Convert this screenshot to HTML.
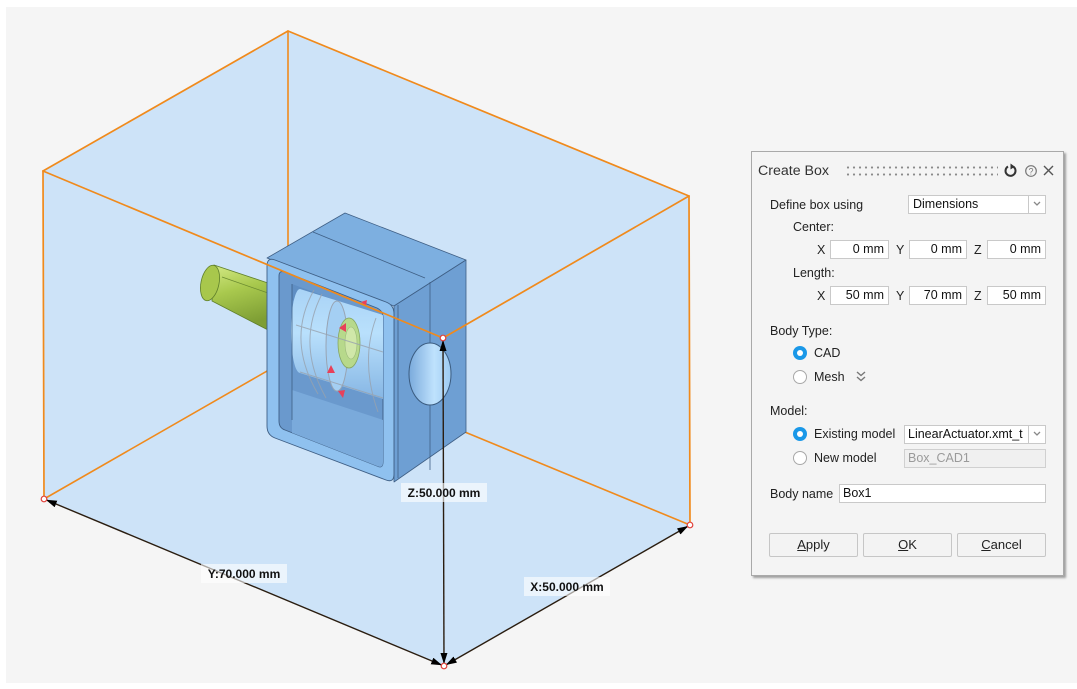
<!DOCTYPE html>
<html><head><meta charset="utf-8">
<style>
html,body{margin:0;padding:0;background:#fff;}
body{width:1077px;height:689px;position:relative;overflow:hidden;font-family:"Liberation Sans",Arial,sans-serif;}
.a{position:absolute;white-space:nowrap;}
.t{position:absolute;white-space:nowrap;font-size:12.5px;color:#222;line-height:16px;}
.f{position:absolute;background:#fff;border:1px solid #c9c9c9;box-sizing:border-box;font-size:12.5px;line-height:17px;color:#111;}
.f.r{text-align:right;padding-right:4px;}
.dd{position:absolute;background:#fff;border:1px solid #c9c9c9;box-sizing:border-box;}
.rad{position:absolute;width:14px;height:14px;border-radius:50%;box-sizing:border-box;}
.on{background:#1a98e8;}
.on:after{content:"";position:absolute;left:4px;top:4px;width:6px;height:6px;border-radius:50%;background:#fff;}
.off{background:#fff;border:1px solid #a8a8a8;}
.btn{position:absolute;top:533px;height:24px;background:#f3f3f3;border:1px solid #c6c6c6;border-radius:2px;box-sizing:border-box;text-align:center;font-size:13px;line-height:22px;color:#222;}
</style></head>
<body>
<svg class="a" style="left:0;top:0" width="1077" height="689" viewBox="0 0 1077 689">
<defs>
<linearGradient id="shaft" x1="0" y1="0" x2="0.25" y2="1">
<stop offset="0" stop-color="#d4ea86"/><stop offset="0.45" stop-color="#a9c94e"/><stop offset="1" stop-color="#7e9e34"/>
</linearGradient>
<linearGradient id="cyl" x1="0" y1="0" x2="0" y2="1">
<stop offset="0" stop-color="#a9d3f6"/><stop offset="0.4" stop-color="#b9e0fc"/><stop offset="1" stop-color="#86b6e4"/>
</linearGradient>
<linearGradient id="hole" x1="0" y1="0" x2="1" y2="0">
<stop offset="0" stop-color="#7aaadc"/><stop offset="0.6" stop-color="#bfe2fd"/><stop offset="1" stop-color="#9ccaf2"/>
</linearGradient>
<clipPath id="open"><path d="M279,276 Q279,270 285,272 L377,308 Q383,311 383,317 L383,462 Q383,469 377,466 L285,430 Q279,428 279,421 Z"/></clipPath>
<marker id="ar" viewBox="0 0 11 7" refX="13" refY="3.5" markerWidth="11" markerHeight="7" orient="auto-start-reverse" markerUnits="userSpaceOnUse"><path d="M0,0 L11,3.5 L0,7 Z" fill="#000"/></marker>
</defs>
<rect x="6" y="7" width="1071" height="676" fill="#f5f5f5"/>
<polygon points="288,31 689,196 690,525 444,666 44,499 43,171" fill="#cde3f8"/>
<g stroke="#f08a1c" stroke-width="1.6" fill="none">
<line x1="288" y1="31" x2="288" y2="359"/>
<line x1="44" y1="499" x2="288" y2="359"/>
<line x1="690" y1="525" x2="288" y2="359"/>
</g>
<path d="M214,265 L268,283 L268,330 L212,301 Z" fill="url(#shaft)" stroke="#5f7f2a" stroke-width="0.8"/>
<ellipse cx="210" cy="283" rx="9" ry="18" transform="rotate(12 210 283)" fill="#a8c74c" stroke="#5f7f2a" stroke-width="0.8"/>
<line x1="222" y1="277" x2="268" y2="293" stroke="#6a8a30" stroke-width="0.7"/>
<polygon points="267,258 345,213 466,260 394,306" fill="#7dafe0" stroke="#3f5f85" stroke-width="0.8" stroke-linejoin="round"/>
<polygon points="394,306 466,260 466,432 394,482" fill="#6e9fd3" stroke="#3f5f85" stroke-width="0.8" stroke-linejoin="round"/>
<path d="M267,266 Q267,257 275,260 L386,302 Q394,305 394,314 L394,474 Q394,483 386,480 L275,438 Q267,435 267,426 Z" fill="#8fc1ef" stroke="#3f5f85" stroke-width="0.9"/>
<path d="M279,276 Q279,270 285,272 L377,308 Q383,311 383,317 L383,462 Q383,469 377,466 L285,430 Q279,428 279,421 Z" fill="#6a99cd" stroke="#3f5f85" stroke-width="0.9"/>
<g clip-path="url(#open)">
<polygon points="292,284 383,318 383,335 292,300" fill="#5f8ec3"/>
<polygon points="292,390 383,420 383,470 292,440" fill="#7aaadb"/>
<path d="M300,289 L383,315 L383,399 L300,373 A9,42 0 0 1 300,289 Z" fill="url(#cyl)"/>
<ellipse cx="337" cy="346" rx="11" ry="45" fill="#a4cff3" stroke="#98a4b3" stroke-width="1"/>
<ellipse cx="349" cy="343" rx="11" ry="25" fill="#b7d98b" stroke="#86a663" stroke-width="0.8"/>
<ellipse cx="351" cy="343" rx="6" ry="16" fill="#d0e7a9" stroke="#9ab87a" stroke-width="0.6"/>
<g stroke="#98a2ae" stroke-width="1" fill="none" opacity="0.8">
<path d="M314,290 Q286,340 318,394"/>
<path d="M322,294 Q296,344 326,398"/>
<path d="M376,318 Q360,362 378,412"/>
<path d="M300,372 L383,398"/>
<path d="M296,325 L383,352"/>
</g>
</g>
<g stroke="#3f5f85" stroke-width="0.8" fill="none">
<line x1="313" y1="232" x2="425" y2="278"/>
<line x1="430" y1="282" x2="430" y2="470"/>
<line x1="398" y1="305" x2="398" y2="478"/>
<line x1="292" y1="284" x2="292" y2="420"/>
</g>
<ellipse cx="430" cy="374" rx="21" ry="31" fill="url(#hole)" stroke="#3b5c80" stroke-width="1"/>
<g fill="#e8405a">
<polygon points="339,328 346,323 346,332"/>
<polygon points="331,365 327,373 335,373"/>
<polygon points="338,391 345,390 343,398"/>
<polygon points="361,302 367,300 366,306"/>
</g>
<g stroke="#f08a1c" stroke-width="1.7" fill="none" stroke-linecap="round">
<line x1="288" y1="31" x2="43" y2="171"/>
<line x1="288" y1="31" x2="689" y2="196"/>
<line x1="43" y1="171" x2="44" y2="499"/>
<line x1="689" y1="196" x2="690" y2="525"/>
<line x1="43" y1="171" x2="443" y2="338"/>
<line x1="689" y1="196" x2="443" y2="338"/>
</g>
<g stroke="#2a1d10" stroke-width="1.4" fill="none">
<line x1="44" y1="499" x2="444" y2="666" marker-start="url(#ar)" marker-end="url(#ar)"/>
<line x1="444" y1="666" x2="690" y2="525" marker-start="url(#ar)" marker-end="url(#ar)"/>
<line x1="443" y1="338" x2="444" y2="666" marker-start="url(#ar)" marker-end="url(#ar)"/>
</g>
<g fill="#fff" stroke="#e0403a" stroke-width="1.2">
<circle cx="44" cy="499" r="2.8"/><circle cx="444" cy="666" r="2.8"/><circle cx="690" cy="525" r="2.8"/><circle cx="443" cy="338" r="2.8"/>
</g>
<g font-family="Liberation Sans, Arial, sans-serif" font-size="12" font-weight="bold" fill="#111">
<rect x="201" y="564" width="86" height="19" fill="#fff" fill-opacity="0.6"/>
<text x="244" y="578" text-anchor="middle">Y:70.000 mm</text>
<rect x="524" y="577" width="86" height="19" fill="#fff" fill-opacity="0.6"/>
<text x="567" y="591" text-anchor="middle">X:50.000 mm</text>
<rect x="401" y="483" width="86" height="19" fill="#fff" fill-opacity="0.6"/>
<text x="444" y="497" text-anchor="middle">Z:50.000 mm</text>
</g>
</svg>

<div class="a" style="left:751px;top:151px;width:313px;height:425px;background:#f4f4f4;border:1px solid #a9a9a9;box-sizing:border-box;box-shadow:2px 2px 2px rgba(0,0,0,0.35);"></div>
<div class="a" style="left:758px;top:162px;font-size:14.2px;line-height:18px;color:#333;">Create Box</div>
<div class="a" style="left:845px;top:164px;width:153px;height:14px;background-image:radial-gradient(circle,#8a8a8a 0.9px,transparent 1.3px);background-size:6px 7px;"></div>
<svg class="a" style="left:1003px;top:162px" width="54" height="18" viewBox="0 0 54 18">
<path d="M5,4.5 A5,5 0 1 0 10.5,4.8" fill="none" stroke="#333" stroke-width="2"/>
<path d="M7.5,1.5 L11.8,4.6 L7.5,7.5 Z" fill="#333"/>
<circle cx="28" cy="9" r="5.3" fill="none" stroke="#777" stroke-width="1.2"/>
<text x="28" y="12.3" font-size="9" font-family="Liberation Sans, sans-serif" text-anchor="middle" fill="#777">?</text>
<path d="M41,4 L50,13 M50,4 L41,13" stroke="#555" stroke-width="1.4"/>
</svg>

<div class="t" style="left:770px;top:197px;">Define box using</div>
<div class="f" style="left:908px;top:195px;width:121px;height:19px;padding-left:4px;">Dimensions</div>
<div class="dd" style="left:1028px;top:195px;width:18px;height:19px;"></div>
<svg class="a" style="left:1032px;top:200px" width="10" height="8"><path d="M2,2 L5,5 L8,2" fill="none" stroke="#888" stroke-width="1.3"/></svg>

<div class="t" style="left:793px;top:219px;">Center:</div>
<div class="t" style="left:817px;top:242px;">X</div>
<div class="f r" style="left:830px;top:240px;width:59px;height:19px;">0 mm</div>
<div class="t" style="left:896px;top:242px;">Y</div>
<div class="f r" style="left:909px;top:240px;width:58px;height:19px;">0 mm</div>
<div class="t" style="left:974px;top:242px;">Z</div>
<div class="f r" style="left:987px;top:240px;width:59px;height:19px;">0 mm</div>

<div class="t" style="left:793px;top:265px;">Length:</div>
<div class="t" style="left:817px;top:288px;">X</div>
<div class="f r" style="left:830px;top:286px;width:59px;height:19px;">50 mm</div>
<div class="t" style="left:896px;top:288px;">Y</div>
<div class="f r" style="left:909px;top:286px;width:58px;height:19px;">70 mm</div>
<div class="t" style="left:974px;top:288px;">Z</div>
<div class="f r" style="left:987px;top:286px;width:59px;height:19px;">50 mm</div>

<div class="t" style="left:770px;top:323px;">Body Type:</div>
<div class="rad on" style="left:793px;top:346px;"></div>
<div class="t" style="left:814px;top:345px;">CAD</div>
<div class="rad off" style="left:793px;top:370px;"></div>
<div class="t" style="left:814px;top:369px;">Mesh</div>
<svg class="a" style="left:855px;top:370px" width="12" height="14"><path d="M2,2 L6,5.5 L10,2 M2,7 L6,10.5 L10,7" fill="none" stroke="#777" stroke-width="1.4"/></svg>

<div class="t" style="left:770px;top:403px;">Model:</div>
<div class="rad on" style="left:793px;top:427px;"></div>
<div class="t" style="left:814px;top:426px;">Existing model</div>
<div class="f" style="left:904px;top:425px;width:125px;height:19px;padding-left:3px;overflow:hidden;">LinearActuator.xmt_t</div>
<div class="dd" style="left:1028px;top:425px;width:18px;height:19px;"></div>
<svg class="a" style="left:1032px;top:430px" width="10" height="8"><path d="M2,2 L5,5 L8,2" fill="none" stroke="#888" stroke-width="1.3"/></svg>
<div class="rad off" style="left:793px;top:451px;"></div>
<div class="t" style="left:814px;top:450px;">New model</div>
<div class="f" style="left:904px;top:449px;width:142px;height:19px;padding-left:3px;background:#f0f0f0;border-color:#d0d0d0;color:#9a9a9a;">Box_CAD1</div>

<div class="t" style="left:770px;top:486px;">Body name</div>
<div class="f" style="left:839px;top:484px;width:207px;height:19px;padding-left:3px;">Box1</div>

<div class="btn" style="left:769px;width:89px;"><u>A</u>pply</div>
<div class="btn" style="left:863px;width:89px;"><u>O</u>K</div>
<div class="btn" style="left:957px;width:89px;"><u>C</u>ancel</div>
</body></html>
